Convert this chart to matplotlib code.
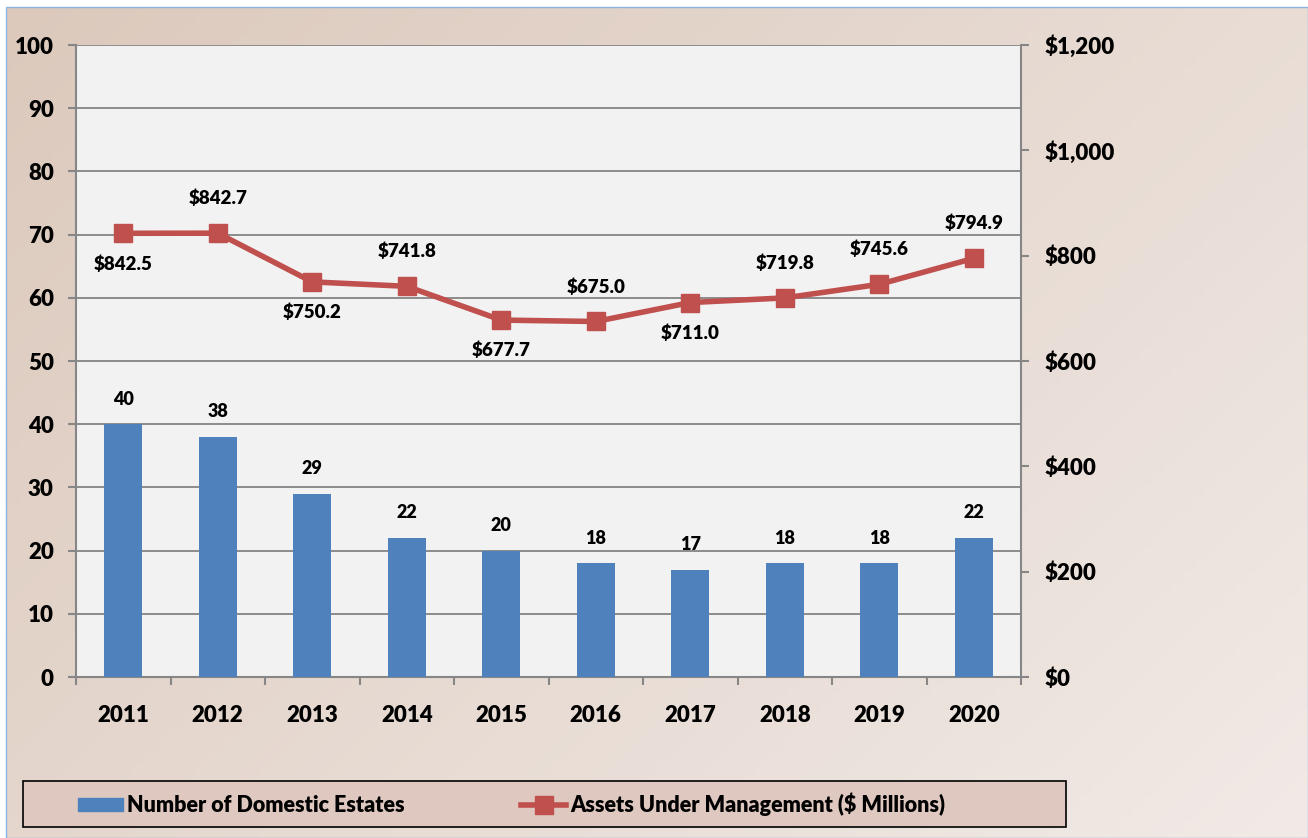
import matplotlib.pyplot as plt
import matplotlib.patches as mpatches
from matplotlib.lines import Line2D
from matplotlib.ticker import FuncFormatter, FixedLocator
import numpy as np

years = ['2011', '2012', '2013', '2014', '2015', '2016', '2017', '2018', '2019', '2020']
estates = [40, 38, 29, 22, 20, 18, 17, 18, 18, 22]
assets = [842.5, 842.7, 750.2, 741.8, 677.7, 675.0, 711.0, 719.8, 745.6, 794.9]
label_above = [False, True, False, True, False, True, False, True, True, True]

plt.rcParams['font.family'] = ['Lato', 'DejaVu Sans']
plt.rcParams['font.weight'] = 'heavy'

W, H = 1308, 838
fig = plt.figure(figsize=(W / 100, H / 100), dpi=100)
fig.patch.set_facecolor('white')

# gradient background of the chart area
bg = fig.add_axes([7 / W, 0, 1 - 7 / W, 1 - 7 / H], zorder=-10)
gx, gy = np.meshgrid(np.linspace(0, 1, 200), np.linspace(0, 1, 200))
t = (gx * 0.6 + gy * 0.4)
c0 = np.array([0xdc, 0xc9, 0xbc]) / 255
c1 = np.array([0xf1, 0xea, 0xe6]) / 255
img = c0[None, None, :] * (1 - t[..., None]) + c1[None, None, :] * t[..., None]
bg.imshow(img, aspect='auto', extent=[0, 1, 0, 1])
bg.set_axis_off()
fig.add_artist(mpatches.Rectangle((6 / W, 0), 1 - 6 / W, 1 - 7 / H, transform=fig.transFigure,
                                  fill=False, edgecolor='#8db3e2', linewidth=1))

ax = fig.add_axes([76 / W, 1 - 677 / H, 945 / W, 632 / H])
ax.set_facecolor('#f2f2f2')
x = np.arange(len(years))
ax.bar(x, estates, width=0.4, color='#4f81bd', zorder=3)
ax.set_xlim(-0.5, len(years) - 0.5)
ax.set_ylim(0, 100)
ax.set_yticks(range(0, 101, 10))
ax.set_xticks(x)
ax.set_xticklabels(years)
ax.xaxis.set_minor_locator(FixedLocator(np.arange(-0.5, len(years), 1)))
ax.tick_params(axis='x', which='major', length=0, pad=20, labelsize=16)
ax.tick_params(axis='x', which='minor', length=6, width=1.5, color='#868686', direction='out')
ax.tick_params(axis='y', length=6, width=1.5, color='#868686', pad=10, labelsize=16)
ax.yaxis.grid(True, color='#8c8c8c', linewidth=1.4, zorder=0)
ax.set_axisbelow(True)
for s in ['left', 'bottom', 'right']:
    ax.spines[s].set_color('#868686')
    ax.spines[s].set_linewidth(1.5)
ax.spines['top'].set_visible(False)

for xi, v in zip(x, estates):
    ax.annotate(str(v), (xi, v), xytext=(0, 18), textcoords='offset points',
                ha='center', va='center', fontsize=13)

ax2 = ax.twinx()
ax2.plot(x, assets, color='#c0504d', linewidth=4, marker='s', markersize=13.5,
         markerfacecolor='#c0504d', markeredgecolor='#c0504d', zorder=5)
ax2.set_ylim(0, 1200)
ax2.set_yticks(range(0, 1201, 200))
ax2.yaxis.set_major_formatter(FuncFormatter(lambda v, p: f'${v:,.0f}'))
ax2.tick_params(axis='y', length=6, width=1.5, color='#868686', pad=11, labelsize=16)
for s in ax2.spines.values():
    s.set_visible(False)

for xi, v, up in zip(x, assets, label_above):
    ax2.annotate(f'${v:,.1f}', (xi, v), xytext=(0, 25 if up else -22), textcoords='offset points',
                 ha='center', va='center', fontsize=13.5)

# legend box
fig.add_artist(mpatches.Rectangle((23 / W, 1 - 827 / H), 1043 / W, 46 / H, transform=fig.transFigure,
                                  facecolor='#dec8c0', edgecolor='black', linewidth=1.2))
handles = [mpatches.Patch(color='#4f81bd'),
           Line2D([], [], color='#c0504d', linewidth=4, marker='s', markersize=13.5)]
fig.legend(handles, ['Number of Domestic Estates', 'Assets Under Management ($ Millions)'],
           loc='center', bbox_to_anchor=(511.5 / W, 1 - 804 / H), ncol=2,
           frameon=False, fontsize=15.5, handlelength=2.1, handleheight=0.55,
           handletextpad=0.2, columnspacing=5.4)

fig.savefig('out.png', dpi=100)
